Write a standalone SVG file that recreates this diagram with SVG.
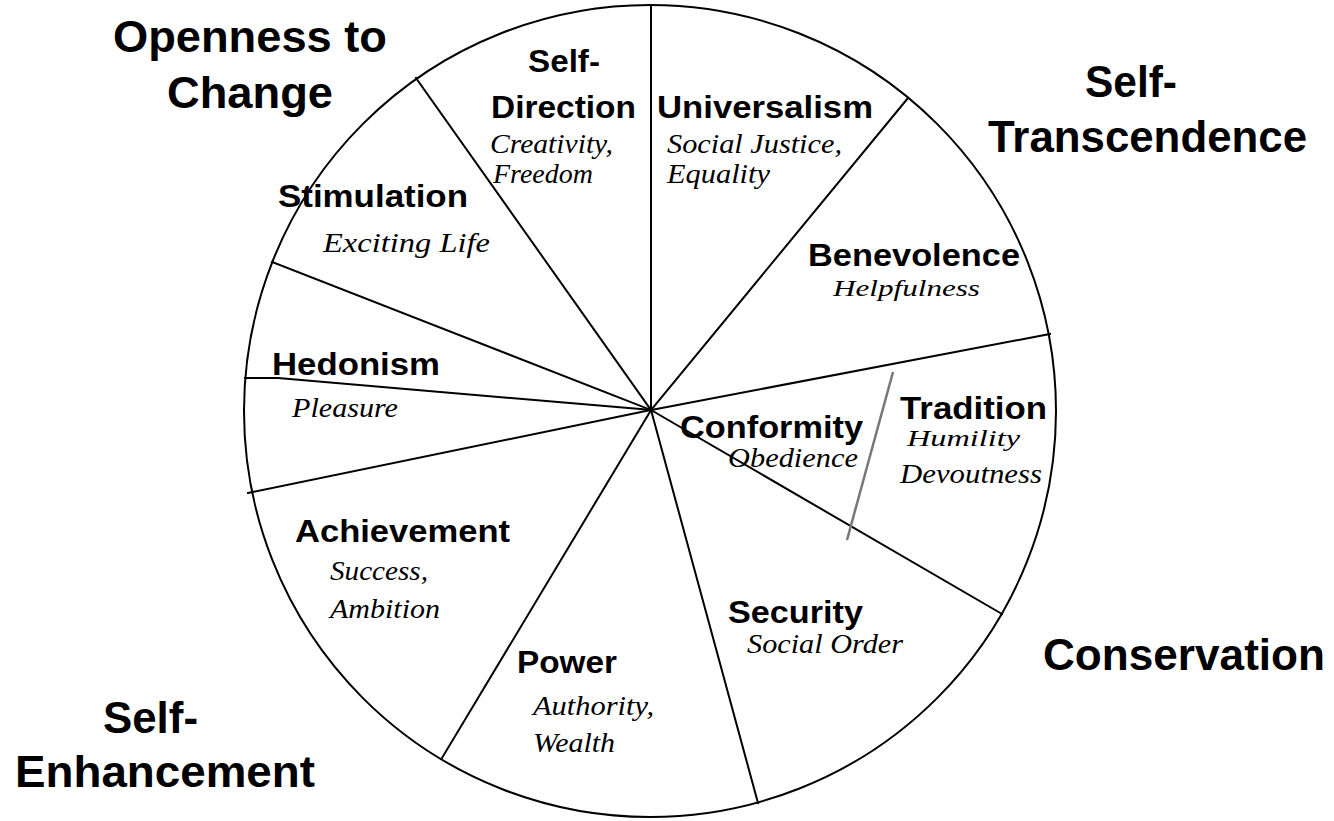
<svg xmlns="http://www.w3.org/2000/svg" width="1334" height="821" viewBox="0 0 1334 821">
<style>
.ln{fill:none;stroke:#000;stroke-width:2;stroke-linecap:square}
.gr{fill:none;stroke:#777;stroke-width:2.5}
.cat{font-family:"Liberation Sans",Arial,sans-serif;font-weight:bold;font-size:45px;fill:#000}
.lbl{font-family:"Liberation Sans",Arial,sans-serif;font-weight:bold;font-size:31px;fill:#000}
.sub{font-family:"Liberation Serif","Times New Roman",serif;font-style:italic;font-size:27px;fill:#000}
.sm{font-size:24px}
</style>
<rect width="1334" height="821" fill="#fff"/>
<g id="wheel">
<circle class="ln" cx="650" cy="411" r="406"/>
</g>
<g id="connectors">
<line class="ln" x1="651" y1="5" x2="651" y2="410"/>
<line class="ln" x1="416" y1="78" x2="651" y2="410"/>
<line class="ln" x1="908" y1="98" x2="651" y2="410"/>
<line class="ln" x1="272" y1="262" x2="651" y2="410"/>
<polyline class="ln" points="245,378 278,378 651,410"/>
<line class="ln" x1="248" y1="493" x2="651" y2="410"/>
<line class="ln" x1="442" y1="758" x2="651" y2="410"/>
<line class="ln" x1="758" y1="803" x2="651" y2="410"/>
<line class="ln" x1="1002" y1="614" x2="651" y2="410"/>
<line class="ln" x1="1050" y1="334" x2="651" y2="410"/>
<line class="gr" x1="893" y1="372" x2="847" y2="540"/>
</g>
<g id="openness-to-change">
<text class="cat" x="113" y="52" textLength="274" lengthAdjust="spacingAndGlyphs">Openness to</text>
<text class="cat" x="167" y="108" textLength="166" lengthAdjust="spacingAndGlyphs">Change</text>
</g>
<g id="self-transcendence">
<text class="cat" x="1085" y="97" textLength="92" lengthAdjust="spacingAndGlyphs">Self-</text>
<text class="cat" x="988" y="152" textLength="319" lengthAdjust="spacingAndGlyphs">Transcendence</text>
</g>
<g id="conservation">
<text class="cat" x="1043" y="670" textLength="282" lengthAdjust="spacingAndGlyphs">Conservation</text>
</g>
<g id="self-enhancement">
<text class="cat" x="103" y="733" textLength="95" lengthAdjust="spacingAndGlyphs">Self-</text>
<text class="cat" x="15" y="787" textLength="300" lengthAdjust="spacingAndGlyphs">Enhancement</text>
</g>
<g id="self-direction">
<text class="lbl" x="528" y="72" textLength="72" lengthAdjust="spacingAndGlyphs">Self-</text>
<text class="lbl" x="491" y="118" textLength="145" lengthAdjust="spacingAndGlyphs">Direction</text>
<text class="sub" x="490" y="153" textLength="123" lengthAdjust="spacingAndGlyphs">Creativity,</text>
<text class="sub" x="493" y="183" textLength="100" lengthAdjust="spacingAndGlyphs">Freedom</text>
</g>
<g id="universalism">
<text class="lbl" x="657" y="118" textLength="216" lengthAdjust="spacingAndGlyphs">Universalism</text>
<text class="sub" x="667" y="153" textLength="175" lengthAdjust="spacingAndGlyphs">Social Justice,</text>
<text class="sub" x="667" y="183" textLength="103" lengthAdjust="spacingAndGlyphs">Equality</text>
</g>
<g id="stimulation">
<text class="lbl" x="278" y="207" textLength="190" lengthAdjust="spacingAndGlyphs">Stimulation</text>
<text class="sub" x="323" y="252" textLength="167" lengthAdjust="spacingAndGlyphs">Exciting Life</text>
</g>
<g id="hedonism">
<text class="lbl" x="272" y="375" textLength="168" lengthAdjust="spacingAndGlyphs">Hedonism</text>
<text class="sub" x="292" y="417" textLength="106" lengthAdjust="spacingAndGlyphs">Pleasure</text>
</g>
<g id="benevolence">
<text class="lbl" x="808" y="266" textLength="212" lengthAdjust="spacingAndGlyphs">Benevolence</text>
<text class="sub sm" x="833" y="296" textLength="147" lengthAdjust="spacingAndGlyphs">Helpfulness</text>
</g>
<g id="conformity">
<text class="lbl" x="680" y="438" textLength="183" lengthAdjust="spacingAndGlyphs">Conformity</text>
<text class="sub" x="728" y="467" textLength="130" lengthAdjust="spacingAndGlyphs">Obedience</text>
</g>
<g id="tradition">
<text class="lbl" x="900" y="419" textLength="147" lengthAdjust="spacingAndGlyphs">Tradition</text>
<text class="sub sm" x="907" y="446" textLength="113" lengthAdjust="spacingAndGlyphs">Humility</text>
<text class="sub" x="900" y="483" textLength="142" lengthAdjust="spacingAndGlyphs">Devoutness</text>
</g>
<g id="achievement">
<text class="lbl" x="295" y="542" textLength="215" lengthAdjust="spacingAndGlyphs">Achievement</text>
<text class="sub" x="330" y="580" textLength="98" lengthAdjust="spacingAndGlyphs">Success,</text>
<text class="sub" x="330" y="618" textLength="110" lengthAdjust="spacingAndGlyphs">Ambition</text>
</g>
<g id="power">
<text class="lbl" x="517" y="673" textLength="100" lengthAdjust="spacingAndGlyphs">Power</text>
<text class="sub" x="533" y="715" textLength="121" lengthAdjust="spacingAndGlyphs">Authority,</text>
<text class="sub" x="533" y="752" textLength="82" lengthAdjust="spacingAndGlyphs">Wealth</text>
</g>
<g id="security">
<text class="lbl" x="728" y="623" textLength="135" lengthAdjust="spacingAndGlyphs">Security</text>
<text class="sub" x="747" y="653" textLength="156" lengthAdjust="spacingAndGlyphs">Social Order</text>
</g>
</svg>
